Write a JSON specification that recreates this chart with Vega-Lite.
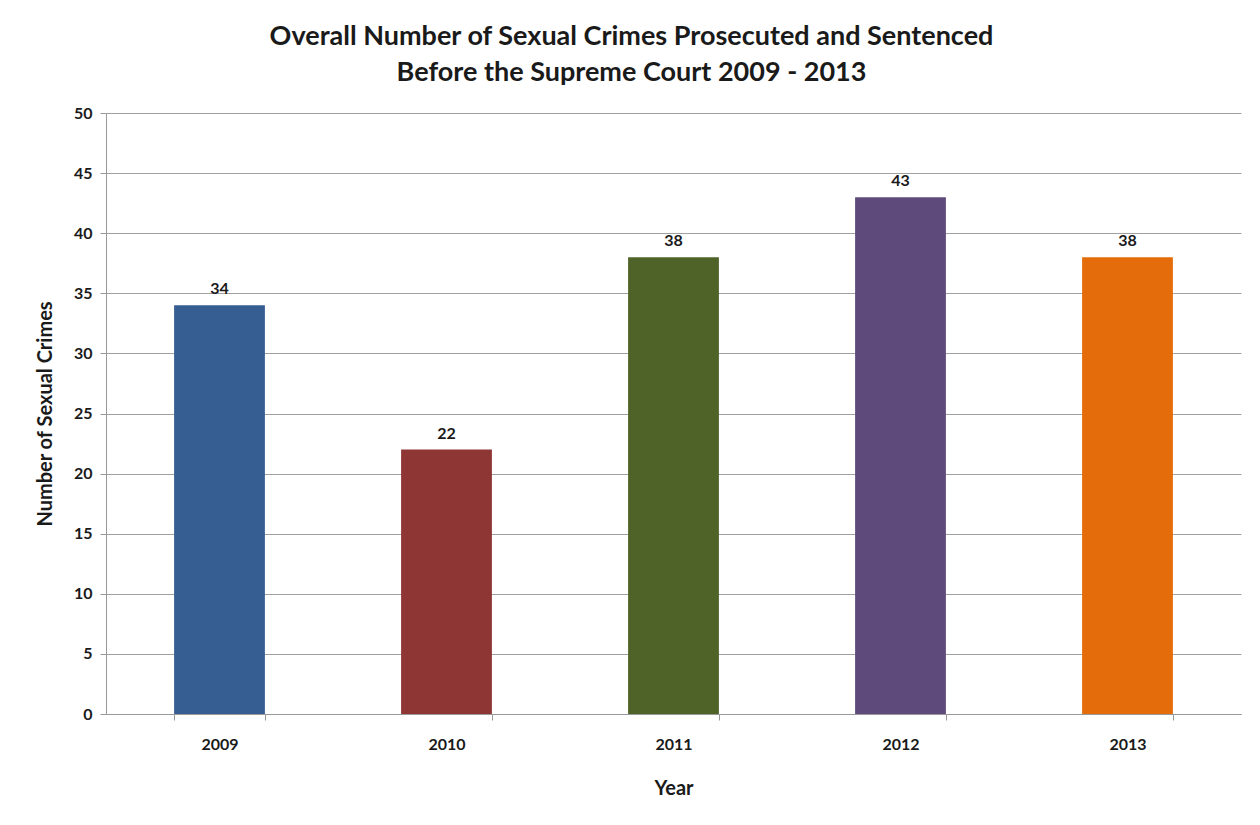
{
  "$schema": "https://vega.github.io/schema/vega-lite/v6.json",
  "autosize": "none",
  "width": 1135,
  "height": 601,
  "padding": {"left": 106, "top": 113, "right": 19, "bottom": 111},
  "background": "white",
  "title": {
    "text": ["Overall Number of Sexual Crimes Prosecuted and Sentenced", "Before the Supreme Court 2009 - 2013"],
    "font": "Lato",
    "fontSize": 27,
    "fontWeight": "bold",
    "color": "#1a1a1a",
    "anchor": "middle",
    "lineHeight": 36,
    "offset": 18,
    "dx": -42
  },
  "data": {
    "values": [
      {"year": "2009", "crimes": 34, "color": "#375E92"},
      {"year": "2010", "crimes": 22, "color": "#8E3634"},
      {"year": "2011", "crimes": 38, "color": "#4F6228"},
      {"year": "2012", "crimes": 43, "color": "#5F4B7B"},
      {"year": "2013", "crimes": 38, "color": "#E46C0A"}
    ]
  },
  "encoding": {
    "x": {
      "field": "year",
      "type": "nominal",
      "scale": {"paddingInner": 0.6, "paddingOuter": 0.3},
      "axis": {
        "title": "Year",
        "labelAngle": 0,
        "tickBand": "extent",
        "tickSize": 6,
        "tickColor": "#999999",
        "domainColor": "#999999",
        "labelFont": "Lato",
        "labelFontSize": 16,
        "labelFontWeight": "bold",
        "labelColor": "#1a1a1a",
        "labelPadding": 16,
        "titleFont": "Lato",
        "titleFontSize": 20,
        "titleFontWeight": "bold",
        "titleColor": "#1a1a1a",
        "titlePadding": 26
      }
    },
    "y": {
      "field": "crimes",
      "type": "quantitative",
      "scale": {"domain": [0, 50]},
      "axis": {
        "title": "Number of Sexual Crimes",
        "values": [0, 5, 10, 15, 20, 25, 30, 35, 40, 45, 50],
        "grid": true,
        "gridColor": "#a0a0a0",
        "tickSize": 6,
        "tickColor": "#999999",
        "domainColor": "#999999",
        "labelFont": "Lato",
        "labelFontSize": 16,
        "labelFontWeight": "bold",
        "labelColor": "#1a1a1a",
        "labelPadding": 8,
        "titleFont": "Lato",
        "titleFontSize": 20,
        "titleFontWeight": "bold",
        "titleColor": "#1a1a1a",
        "titlePadding": 18
      }
    }
  },
  "layer": [
    {
      "mark": {"type": "bar"},
      "encoding": {
        "color": {"field": "color", "type": "nominal", "scale": null, "legend": null}
      }
    },
    {
      "mark": {"type": "text", "baseline": "bottom", "dy": -8, "font": "Lato", "fontSize": 16, "fontWeight": "bold", "color": "#1a1a1a"},
      "encoding": {
        "text": {"field": "crimes", "type": "quantitative"}
      }
    }
  ],
  "config": {
    "view": {"stroke": null}
  }
}
